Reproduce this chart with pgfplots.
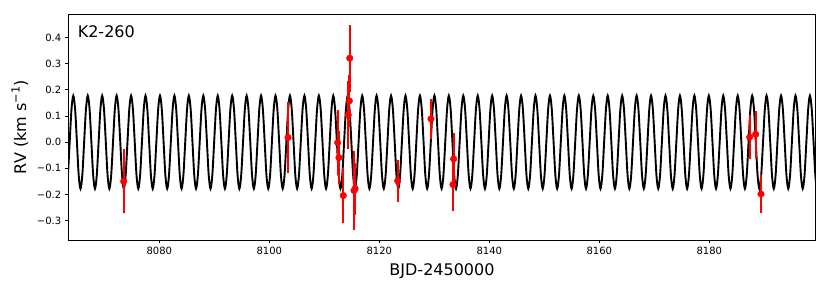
\documentclass[border=0pt]{standalone}
\usepackage{fontspec}
\setmainfont{DejaVu Sans}
\usepackage{pgfplots}
\pgfplotsset{compat=1.18}
\begin{document}
\begin{tikzpicture}
\useasboundingbox (-68.3pt,-51pt) rectangle (761.7pt,240pt);
\begin{axis}[
  at={(0pt,0pt)}, anchor=south west,
  scale only axis, width=747.4pt, height=226pt,
  xmin=8063.45, xmax=8199.35, ymin=-0.374, ymax=0.49,
  xtick={8080,8100,8120,8140,8160,8180},
  xticklabels={8080,8100,8120,8140,8160,8180},
  ytick={-0.3,-0.2,-0.1,0,0.1,0.2,0.3,0.4},
  yticklabels={−0.3,−0.2,−0.1,0.0,0.1,0.2,0.3,0.4},
  tick pos=left, tick align=outside, major tick length=3.5pt,
  tick style={black, line width=0.8pt},
  axis line style={black, line width=0.8pt},
  ticklabel style={font=\fontsize{10}{12}\selectfont},
  xlabel={BJD-2450000}, ylabel={RV (km s\textsuperscript{−1})},
  label style={font=\fontsize{16}{19}\selectfont},
  xlabel style={yshift=-2pt},
  ylabel style={yshift=2pt},
  clip=true,
]
\addplot[black, line width=1.9pt, smooth] coordinates {
(8063.04,-0.178)(8063.37,-0.126)(8063.70,0)(8064.03,0.126)
(8064.36,0.178)(8064.69,0.126)(8065.02,0)(8065.34,-0.126)(8065.67,-0.178)(8066.00,-0.126)(8066.33,0)(8066.66,0.126)
(8066.99,0.178)(8067.32,0.126)(8067.65,0)(8067.97,-0.126)(8068.30,-0.178)(8068.63,-0.126)(8068.96,0)(8069.29,0.126)
(8069.61,0.178)(8069.94,0.126)(8070.27,0)(8070.59,-0.126)(8070.92,-0.178)(8071.25,-0.126)(8071.58,0)(8071.91,0.126)
(8072.24,0.178)(8072.57,0.126)(8072.90,0)(8073.22,-0.126)(8073.55,-0.178)(8073.88,-0.126)(8074.21,0)(8074.54,0.126)
(8074.87,0.178)(8075.20,0.126)(8075.53,0)(8075.85,-0.126)(8076.18,-0.178)(8076.51,-0.126)(8076.84,0)(8077.17,0.126)
(8077.49,0.178)(8077.82,0.126)(8078.15,0)(8078.47,-0.126)(8078.80,-0.178)(8079.13,-0.126)(8079.46,0)(8079.79,0.126)
(8080.12,0.178)(8080.45,0.126)(8080.78,0)(8081.10,-0.126)(8081.43,-0.178)(8081.76,-0.126)(8082.09,0)(8082.42,0.126)
(8082.74,0.178)(8083.07,0.126)(8083.40,0)(8083.72,-0.126)(8084.05,-0.178)(8084.38,-0.126)(8084.71,0)(8085.04,0.126)
(8085.37,0.178)(8085.70,0.126)(8086.03,0)(8086.35,-0.126)(8086.68,-0.178)(8087.01,-0.126)(8087.34,0)(8087.67,0.126)
(8088.00,0.178)(8088.33,0.126)(8088.66,0)(8088.98,-0.126)(8089.31,-0.178)(8089.64,-0.126)(8089.97,0)(8090.30,0.126)
(8090.62,0.178)(8090.95,0.126)(8091.28,0)(8091.60,-0.126)(8091.93,-0.178)(8092.26,-0.126)(8092.59,0)(8092.92,0.126)
(8093.25,0.178)(8093.58,0.126)(8093.91,0)(8094.23,-0.126)(8094.56,-0.178)(8094.89,-0.126)(8095.22,0)(8095.55,0.126)
(8095.88,0.178)(8096.21,0.126)(8096.54,0)(8096.86,-0.126)(8097.19,-0.178)(8097.52,-0.126)(8097.85,0)(8098.18,0.126)
(8098.50,0.178)(8098.83,0.126)(8099.16,0)(8099.48,-0.126)(8099.81,-0.178)(8100.14,-0.126)(8100.47,0)(8100.80,0.126)
(8101.13,0.178)(8101.46,0.126)(8101.79,0)(8102.11,-0.126)(8102.44,-0.178)(8102.77,-0.126)(8103.10,0)(8103.43,0.126)
(8103.75,0.178)(8104.08,0.126)(8104.41,0)(8104.73,-0.126)(8105.06,-0.178)(8105.39,-0.126)(8105.72,0)(8106.05,0.126)
(8106.38,0.178)(8106.71,0.126)(8107.04,0)(8107.36,-0.126)(8107.69,-0.178)(8108.02,-0.126)(8108.35,0)(8108.68,0.126)
(8109.01,0.178)(8109.34,0.126)(8109.67,0)(8109.99,-0.126)(8110.32,-0.178)(8110.65,-0.126)(8110.98,0)(8111.31,0.126)
(8111.63,0.178)(8111.96,0.126)(8112.29,0)(8112.61,-0.126)(8112.94,-0.178)(8113.27,-0.126)(8113.60,0)(8113.93,0.126)
(8114.26,0.178)(8114.59,0.126)(8114.92,0)(8115.24,-0.126)(8115.57,-0.178)(8115.90,-0.126)(8116.23,0)(8116.56,0.126)
(8116.89,0.178)(8117.22,0.126)(8117.55,0)(8117.87,-0.126)(8118.20,-0.178)(8118.53,-0.126)(8118.86,0)(8119.19,0.126)
(8119.51,0.178)(8119.84,0.126)(8120.17,0)(8120.49,-0.126)(8120.82,-0.178)(8121.15,-0.126)(8121.48,0)(8121.81,0.126)
(8122.14,0.178)(8122.47,0.126)(8122.80,0)(8123.12,-0.126)(8123.45,-0.178)(8123.78,-0.126)(8124.11,0)(8124.44,0.126)
(8124.76,0.178)(8125.09,0.126)(8125.42,0)(8125.74,-0.126)(8126.07,-0.178)(8126.40,-0.126)(8126.73,0)(8127.06,0.126)
(8127.39,0.178)(8127.72,0.126)(8128.05,0)(8128.37,-0.126)(8128.70,-0.178)(8129.03,-0.126)(8129.36,0)(8129.69,0.126)
(8130.02,0.178)(8130.35,0.126)(8130.68,0)(8131.00,-0.126)(8131.33,-0.178)(8131.66,-0.126)(8131.99,0)(8132.32,0.126)
(8132.64,0.178)(8132.97,0.126)(8133.30,0)(8133.62,-0.126)(8133.95,-0.178)(8134.28,-0.126)(8134.61,0)(8134.94,0.126)
(8135.27,0.178)(8135.60,0.126)(8135.93,0)(8136.25,-0.126)(8136.58,-0.178)(8136.91,-0.126)(8137.24,0)(8137.57,0.126)
(8137.90,0.178)(8138.23,0.126)(8138.56,0)(8138.88,-0.126)(8139.21,-0.178)(8139.54,-0.126)(8139.87,0)(8140.20,0.126)
(8140.52,0.178)(8140.85,0.126)(8141.18,0)(8141.50,-0.126)(8141.83,-0.178)(8142.16,-0.126)(8142.49,0)(8142.82,0.126)
(8143.15,0.178)(8143.48,0.126)(8143.81,0)(8144.13,-0.126)(8144.46,-0.178)(8144.79,-0.126)(8145.12,0)(8145.45,0.126)
(8145.78,0.178)(8146.11,0.126)(8146.44,0)(8146.76,-0.126)(8147.09,-0.178)(8147.42,-0.126)(8147.75,0)(8148.08,0.126)
(8148.40,0.178)(8148.73,0.126)(8149.06,0)(8149.38,-0.126)(8149.71,-0.178)(8150.04,-0.126)(8150.37,0)(8150.70,0.126)
(8151.03,0.178)(8151.36,0.126)(8151.69,0)(8152.01,-0.126)(8152.34,-0.178)(8152.67,-0.126)(8153.00,0)(8153.33,0.126)
(8153.65,0.178)(8153.98,0.126)(8154.31,0)(8154.63,-0.126)(8154.96,-0.178)(8155.29,-0.126)(8155.62,0)(8155.95,0.126)
(8156.28,0.178)(8156.61,0.126)(8156.94,0)(8157.26,-0.126)(8157.59,-0.178)(8157.92,-0.126)(8158.25,0)(8158.58,0.126)
(8158.91,0.178)(8159.24,0.126)(8159.57,0)(8159.89,-0.126)(8160.22,-0.178)(8160.55,-0.126)(8160.88,0)(8161.21,0.126)
(8161.53,0.178)(8161.86,0.126)(8162.19,0)(8162.51,-0.126)(8162.84,-0.178)(8163.17,-0.126)(8163.50,0)(8163.83,0.126)
(8164.16,0.178)(8164.49,0.126)(8164.82,0)(8165.14,-0.126)(8165.47,-0.178)(8165.80,-0.126)(8166.13,0)(8166.46,0.126)
(8166.79,0.178)(8167.12,0.126)(8167.45,0)(8167.77,-0.126)(8168.10,-0.178)(8168.43,-0.126)(8168.76,0)(8169.09,0.126)
(8169.41,0.178)(8169.74,0.126)(8170.07,0)(8170.39,-0.126)(8170.72,-0.178)(8171.05,-0.126)(8171.38,0)(8171.71,0.126)
(8172.04,0.178)(8172.37,0.126)(8172.70,0)(8173.02,-0.126)(8173.35,-0.178)(8173.68,-0.126)(8174.01,0)(8174.34,0.126)
(8174.66,0.178)(8174.99,0.126)(8175.32,0)(8175.64,-0.126)(8175.97,-0.178)(8176.30,-0.126)(8176.63,0)(8176.96,0.126)
(8177.29,0.178)(8177.62,0.126)(8177.95,0)(8178.27,-0.126)(8178.60,-0.178)(8178.93,-0.126)(8179.26,0)(8179.59,0.126)
(8179.92,0.178)(8180.25,0.126)(8180.58,0)(8180.90,-0.126)(8181.23,-0.178)(8181.56,-0.126)(8181.89,0)(8182.22,0.126)
(8182.54,0.178)(8182.87,0.126)(8183.20,0)(8183.52,-0.126)(8183.85,-0.178)(8184.18,-0.126)(8184.51,0)(8184.84,0.126)
(8185.17,0.178)(8185.50,0.126)(8185.83,0)(8186.15,-0.126)(8186.48,-0.178)(8186.81,-0.126)(8187.14,0)(8187.47,0.126)
(8187.80,0.178)(8188.13,0.126)(8188.46,0)(8188.78,-0.126)(8189.11,-0.178)(8189.44,-0.126)(8189.77,0)(8190.10,0.126)
(8190.42,0.178)(8190.75,0.126)(8191.08,0)(8191.40,-0.126)(8191.73,-0.178)(8192.06,-0.126)(8192.39,0)(8192.72,0.126)
(8193.05,0.178)(8193.38,0.126)(8193.71,0)(8194.03,-0.126)(8194.36,-0.178)(8194.69,-0.126)(8195.02,0)(8195.35,0.126)
(8195.68,0.178)(8196.01,0.126)(8196.34,0)(8196.66,-0.126)(8196.99,-0.178)(8197.32,-0.126)(8197.65,0)(8197.98,0.126)
(8198.30,0.178)(8198.63,0.126)(8198.96,0)(8199.28,-0.126)(8199.61,-0.178)(8199.94,-0.126)
};
% error bars: lower and upper ends of each bar, one bar per block
\addplot[red, line width=2pt, forget plot, empty line=jump] table {
x y
8073.52 -0.272
8073.52 -0.028

8103.40 -0.119
8103.40 0.155

8112.43 -0.127
8112.43 0.123

8112.66 -0.159
8112.66 0.041

8113.45 -0.309
8113.45 -0.099

8114.36 -0.026
8114.36 0.234

8114.55 0.058
8114.55 0.258

8114.62 0.193
8114.62 0.449

8115.40 -0.335
8115.40 -0.035

8115.60 -0.278
8115.60 -0.078

8123.34 -0.228
8123.34 -0.068

8129.39 0.014
8129.39 0.164

8133.52 -0.164
8133.52 0.036

8133.40 -0.262
8133.40 -0.062

8187.34 -0.066
8187.34 0.104

8188.43 -0.060
8188.43 0.120

8189.40 -0.270
8189.40 -0.126
};
\addplot[only marks, mark=*, color=red, mark options={fill=red, draw=red}, mark size=3.3pt]
  table {
x y
8073.52 -0.150
8103.40 0.018
8112.43 -0.002
8112.66 -0.059
8113.45 -0.204
8114.36 0.104
8114.55 0.158
8114.62 0.321
8115.40 -0.185
8115.60 -0.178
8123.34 -0.148
8129.39 0.089
8133.52 -0.064
8133.40 -0.162
8187.34 0.019
8188.43 0.030
8189.40 -0.198
};
\node[anchor=west, font=\fontsize{16}{19}\selectfont] at (rel axis cs:0.008,0.92) {K2-260};
\end{axis}
\end{tikzpicture}
\end{document}
